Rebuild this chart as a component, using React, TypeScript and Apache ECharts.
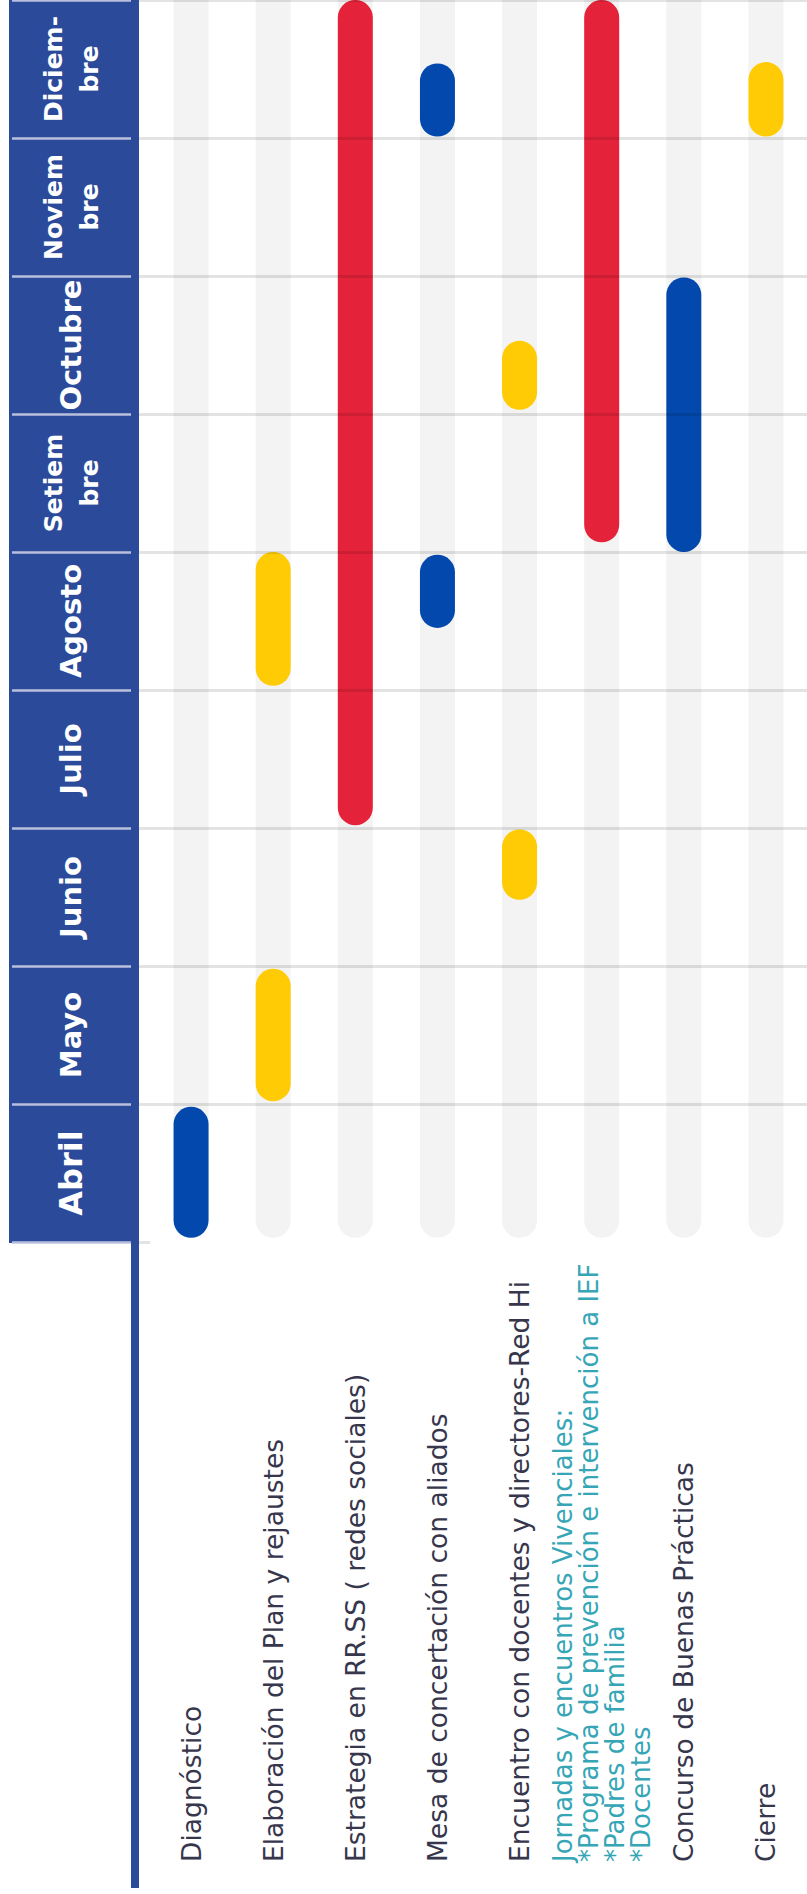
import React, { useEffect, useRef } from "react";
import * as echarts from "echarts";

// Activities (x categories, left to right)
const ACTIVITIES = [
  "Diagnóstico",
  "Elaboración del Plan y rejaustes",
  "Estrategia en RR.SS ( redes sociales)",
  "Mesa de concertación con aliados",
  "Encuentro con docentes y directores-Red Hi",
  "Jornadas y encuentros Vivenciales:\n*Programa de prevención e intervención a IEF\n*Padres de familia\n*Docentes",
  "Concurso de Buenas Prácticas",
  "Cierre",
];
const HIGHLIGHTED_ACTIVITY = 5;

// Months (bottom to top)
const MONTHS = ["Abril", "Mayo", "Junio", "Julio", "Agosto", "Setiem\nbre", "Octubre", "Noviem\nbre", "Diciem-\nbre"];

// Tasks: time in month units, 0 = start of Abril ... 9 = end of Diciembre
const TASK_ACTIVITY = [0, 1, 1, 2, 3, 3, 4, 4, 5, 6, 7];
const TASK_START = [0.03, 1.02, 4.03, 3.02, 4.45, 8.01, 2.48, 6.03, 5.07, 5.0, 8.01];
const TASK_END = [0.98, 1.98, 5.0, 9.0, 4.98, 8.54, 2.99, 6.53, 9.0, 6.99, 8.55];
const TASK_KIND = ["blue", "yellow", "yellow", "red", "blue", "blue", "yellow", "yellow", "red", "blue", "yellow"];

const TRACK_START = 0.03;
const TRACK_END = 9.4;

const COLORS: Record<string, string> = {
  blue: "#0349AD",
  yellow: "#FFCB05",
  red: "#E42239",
};
const HEADER_BLUE = "#2B4A9A";
const FONT = "'DejaVu Sans', 'Open Sans', sans-serif";
const BAR_W = 35;

export default function App() {
  const ref = useRef<HTMLDivElement>(null);

  useEffect(() => {
    if (!ref.current) return;
    const chart = echarts.init(ref.current, undefined, { renderer: "svg" });

    const roundedBar = (params: any, api: any) => {
      const i = api.value(0);
      const p0 = api.coord([i, api.value(1)]);
      const p1 = api.coord([i, api.value(2)]);
      return {
        type: "rect",
        shape: { x: p0[0] - BAR_W / 2, y: p1[1], width: BAR_W, height: p0[1] - p1[1], r: BAR_W / 2 },
        style: { fill: api.visual("color") },
      };
    };

    const trackData = ACTIVITIES.map((_, i) => [i, TRACK_START, TRACK_END]);
    const taskData = TASK_ACTIVITY.map((a, k) => ({
      value: [a, TASK_START[k], TASK_END[k]],
      itemStyle: { color: COLORS[TASK_KIND[k]] },
    }));

    chart.setOption({
      animation: false,
      backgroundColor: "#ffffff",
      grid: { left: 150, top: -6, width: 664, height: 1248, containLabel: false },
      graphic: [
        { type: "rect", z: 0, shape: { x: 9, y: 0, width: 130, height: 1243 }, style: { fill: HEADER_BLUE } },
        { type: "rect", z: 0, shape: { x: 131, y: 0, width: 8, height: 1888 }, style: { fill: HEADER_BLUE } },
      ],
      xAxis: {
        type: "category",
        data: ACTIVITIES,
        boundaryGap: true,
        position: "bottom",
        axisLine: { show: false },
        axisTick: { show: false },
        splitLine: { show: false },
        axisLabel: {
          interval: 0,
          rotate: 90,
          align: "left",
          verticalAlign: "middle",
          margin: 620,
          formatter: (v: string, idx: number) => {
            const lines = v.split("\n");
            const key = idx === HIGHLIGHTED_ACTIVITY ? "t" : "n";
            return lines.map((l) => `{${key}|${l}}`).join("\n");
          },
          rich: {
            n: { color: "#36364c", fontSize: 26.5, fontFamily: FONT },
            t: { color: "#36A6B6", fontSize: 26, lineHeight: 26, fontFamily: FONT },
          },
        },
      },
      yAxis: [
        {
          type: "value",
          min: 0,
          max: 9,
          interval: 1,
          position: "left",
          offset: 19,
          z: 6,
          axisLine: { show: false },
          axisLabel: { show: false },
          axisTick: { show: true, length: 119, lineStyle: { color: "#b9c0dd", width: 2.5 } },
          splitLine: { show: true, showMinLine: false, lineStyle: { color: "rgba(0,0,0,0.11)", width: 3 } },
        },
        {
          type: "category",
          data: MONTHS,
          boundaryGap: true,
          position: "left",
          offset: 11,
          z: 7,
          axisLine: { show: false },
          axisTick: { show: true, inside: true, length: 11, lineStyle: { color: "rgba(0,0,0,0.11)", width: 3 } },
          splitLine: { show: false },
          axisLabel: {
            interval: 0,
            rotate: 90,
            margin: 68,
            align: "center",
            verticalAlign: "middle",
            formatter: (v: string) => {
              const lines = v.split("\n");
              if (lines.length > 1) return lines.map((l) => `{two|${l}}`).join("\n");
              return v === "Abril" ? `{big|${v}}` : `{one|${v}}`;
            },
            rich: {
              two: { color: "#ffffff", fontSize: 25, lineHeight: 36, fontWeight: "bold", fontFamily: FONT },
              one: { color: "#ffffff", fontSize: 29, fontWeight: "bold", fontFamily: FONT },
              big: { color: "#ffffff", fontSize: 32, fontWeight: "bold", fontFamily: FONT },
            },
          },
        },
      ],
      series: [
        {
          type: "custom",
          name: "tracks",
          z: 1,
          xAxisIndex: 0,
          yAxisIndex: 0,
          itemStyle: { color: "#F3F3F3" },
          renderItem: roundedBar,
          data: trackData,
          silent: true,
        },
        {
          type: "custom",
          name: "tasks",
          z: 2,
          xAxisIndex: 0,
          yAxisIndex: 0,
          renderItem: roundedBar,
          data: taskData,
        },
      ],
    });

    return () => chart.dispose();
  }, []);

  return (
    <div
      ref={ref}
      style={{ position: "absolute", left: 0, top: 0, width: 807, height: 1894, background: "#fff" }}
    />
  );
}
